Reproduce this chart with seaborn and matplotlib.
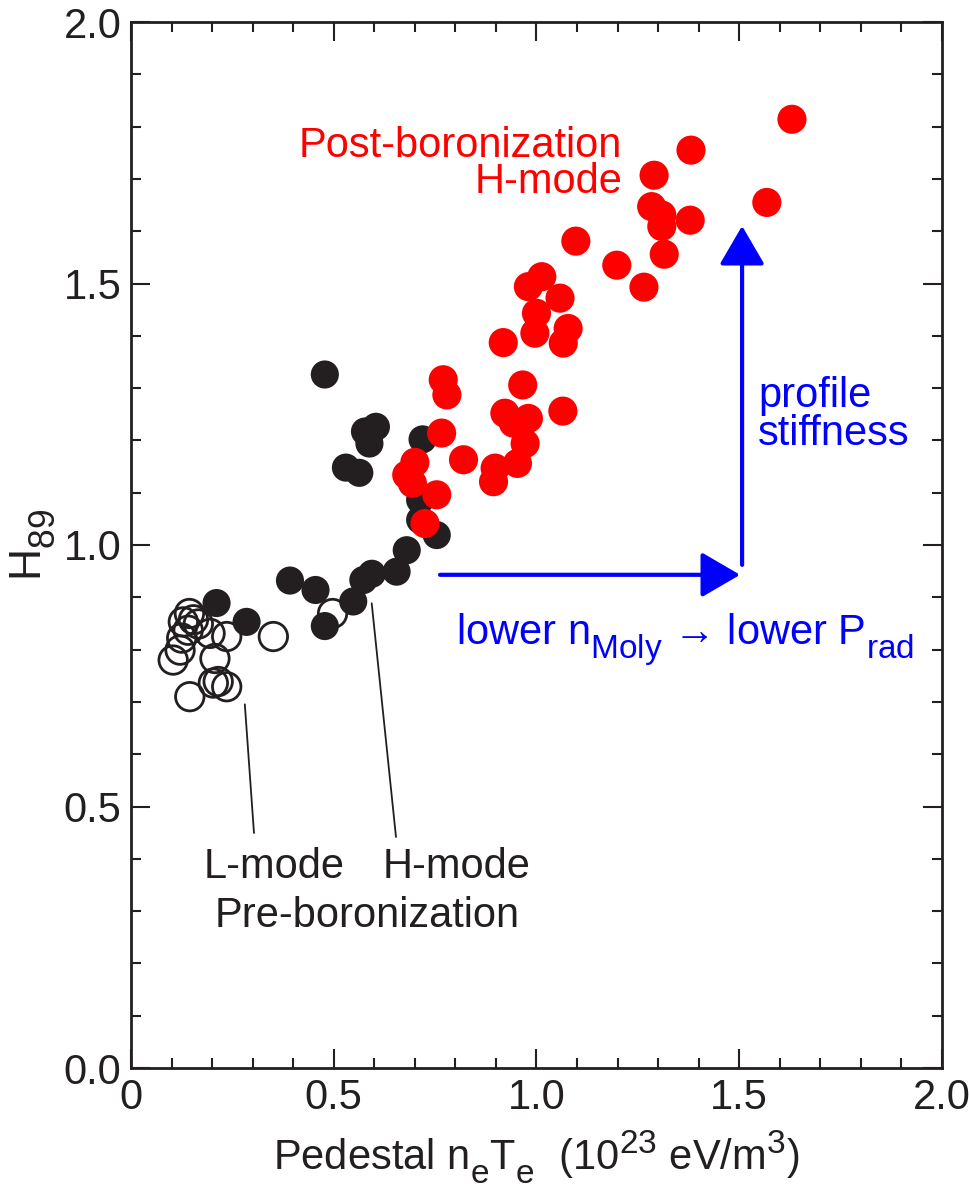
import matplotlib
matplotlib.use("Agg")
import matplotlib.pyplot as plt
from matplotlib.ticker import MultipleLocator, FixedFormatter, FixedLocator
import seaborn as sns
import pandas as pd

# larger, lower sub/superscripts (closer to the reference typography)
try:
    import matplotlib._mathtext as _mt
    _mt.SHRINK_FACTOR = 0.8
    _mt.FontConstantsBase.sub1 = 0.62
    _mt.FontConstantsBase.sub2 = 0.7
except Exception:
    pass

# ---- data ----
lmode_x = [0.144, 0.129, 0.154, 0.141, 0.125, 0.121, 0.104, 0.195, 0.236, 0.207,
           0.145, 0.203, 0.215, 0.236, 0.351, 0.497, 0.166]
lmode_y = [0.869, 0.853, 0.857, 0.837, 0.822, 0.799, 0.780, 0.831, 0.825, 0.783,
           0.710, 0.736, 0.739, 0.729, 0.825, 0.869, 0.849]

hpre_x = [0.211, 0.285, 0.392, 0.455, 0.478, 0.548, 0.573, 0.594, 0.655, 0.680,
          0.754, 0.478, 0.577, 0.604, 0.588, 0.530, 0.563, 0.719, 0.713, 0.713]
hpre_y = [0.889, 0.853, 0.932, 0.914, 0.845, 0.892, 0.933, 0.945, 0.949, 0.990,
          1.019, 1.326, 1.217, 1.226, 1.194, 1.148, 1.138, 1.202, 1.086, 1.048]

hpost_x = [0.770, 0.779, 0.766, 0.700, 0.680, 0.694, 0.754, 0.725, 0.820, 0.894,
           0.898, 0.953, 0.972, 0.922, 0.943, 0.980, 1.065, 0.966, 0.918, 0.996,
           1.066, 1.078, 1.000, 1.058, 0.980, 1.013, 1.097, 1.198, 1.265, 1.315,
           1.309, 1.309, 1.284, 1.290, 1.379, 1.381, 1.568, 1.630]
hpost_y = [1.316, 1.287, 1.214, 1.158, 1.134, 1.118, 1.096, 1.041, 1.163, 1.121,
           1.147, 1.156, 1.194, 1.252, 1.233, 1.242, 1.256, 1.306, 1.387, 1.405,
           1.386, 1.414, 1.443, 1.472, 1.494, 1.513, 1.581, 1.535, 1.493, 1.556,
           1.609, 1.631, 1.647, 1.707, 1.621, 1.755, 1.655, 1.814]

x_ticks = [0, 0.5, 1.0, 1.5, 2.0]
x_tick_labels = ["0", "0.5", "1.0", "1.5", "2.0"]
y_ticks = [0, 0.5, 1.0, 1.5, 2.0]
y_tick_labels = ["0.0", "0.5", "1.0", "1.5", "2.0"]

# ---- style ----
sns.set_theme(style="white")
plt.rcParams["font.family"] = ["Liberation Sans", "DejaVu Sans"]
plt.rcParams["mathtext.fontset"] = "custom"
plt.rcParams["mathtext.rm"] = "Liberation Sans"
plt.rcParams["mathtext.it"] = "Liberation Sans:italic"
plt.rcParams["mathtext.bf"] = "Liberation Sans:bold"

BLACK = "#231f20"
RED = "#ff0000"
BLUE = "#0000ff"
FS = 30

fig = plt.figure(figsize=(9.70, 11.94), dpi=100)
ax = fig.add_axes([131 / 970, 126 / 1194, 811 / 970, 1046 / 1194])

df_l = pd.DataFrame({"x": lmode_x, "y": lmode_y})
df_h = pd.DataFrame({"x": hpre_x, "y": hpre_y})
df_p = pd.DataFrame({"x": hpost_x, "y": hpost_y})

sns.scatterplot(data=df_l, x="x", y="y", ax=ax, s=420, marker="o",
                facecolors="none", edgecolors=BLACK, linewidth=2.0, zorder=3)
sns.scatterplot(data=df_h, x="x", y="y", ax=ax, s=410, color=BLACK,
                edgecolor="none", linewidth=0, zorder=4)
sns.scatterplot(data=df_p, x="x", y="y", ax=ax, s=440, color=RED,
                edgecolor="none", linewidth=0, zorder=5)

ax.set_xlim(0, 2.0)
ax.set_ylim(0, 2.0)
ax.xaxis.set_major_locator(FixedLocator(x_ticks))
ax.xaxis.set_major_formatter(FixedFormatter(x_tick_labels))
ax.yaxis.set_major_locator(FixedLocator(y_ticks))
ax.yaxis.set_major_formatter(FixedFormatter(y_tick_labels))
ax.xaxis.set_minor_locator(MultipleLocator(0.1))
ax.yaxis.set_minor_locator(MultipleLocator(0.1))
ax.tick_params(which="both", direction="in", top=True, right=True,
               bottom=True, left=True, color=BLACK)
ax.tick_params(which="major", length=14, width=1.5, labelsize=FS, pad=7,
               labelcolor=BLACK)
ax.tick_params(which="minor", length=7, width=1.5)
for sp in ax.spines.values():
    sp.set_linewidth(2)
    sp.set_color(BLACK)
    sp.set_visible(True)

ax.set_xlabel(r"Pedestal n$_\mathrm{e}$T$_\mathrm{e}$  (10$^\mathrm{23}$ eV/m$^\mathrm{3}$)",
              fontsize=FS, color=BLACK, labelpad=8)
ax.set_ylabel(r"H$_\mathrm{89}$", fontsize=FS + 2, color=BLACK, labelpad=4)

# ---- annotations ----
ax.text(1.211, 1.742, "Post-boronization", color=RED, fontsize=FS,
        ha="right", va="baseline")
ax.text(1.211, 1.673, "H-mode", color=RED, fontsize=FS, ha="right", va="baseline")

ax.text(1.546, 1.264, "profile", color=BLUE, fontsize=FS, ha="left", va="baseline")
ax.text(1.546, 1.191, "stiffness", color=BLUE, fontsize=FS, ha="left", va="baseline")

ax.text(0.801, 0.809, r"lower n$_\mathrm{Moly}$ → lower P$_\mathrm{rad}$",
        color=BLUE, fontsize=FS, ha="left", va="baseline")

ax.text(0.178, 0.363, "L-mode", color=BLACK, fontsize=FS, ha="left", va="baseline")
ax.text(0.621, 0.363, "H-mode", color=BLACK, fontsize=FS, ha="left", va="baseline")
ax.text(0.207, 0.270, "Pre-boronization", color=BLACK, fontsize=FS,
        ha="left", va="baseline")

# pointer lines
ax.plot([0.2807, 0.3033], [0.6954, 0.4493], color=BLACK, lw=1.3, zorder=2)
ax.plot([0.5936, 0.6535], [0.8885, 0.4417], color=BLACK, lw=1.3, zorder=2)

# blue arrows
arrow_kw = dict(arrowstyle="-|>,head_length=2.4,head_width=1.4",
                mutation_scale=10, lw=3, color=BLUE, shrinkA=0, shrinkB=0)
ax.annotate("", xy=(1.502, 0.943), xytext=(0.762, 0.943), arrowprops=arrow_kw, zorder=6)
ax.annotate("", xy=(1.507, 1.610), xytext=(1.507, 0.962), arrowprops=arrow_kw, zorder=6)

fig.savefig("out.png", dpi=100, facecolor="white")
